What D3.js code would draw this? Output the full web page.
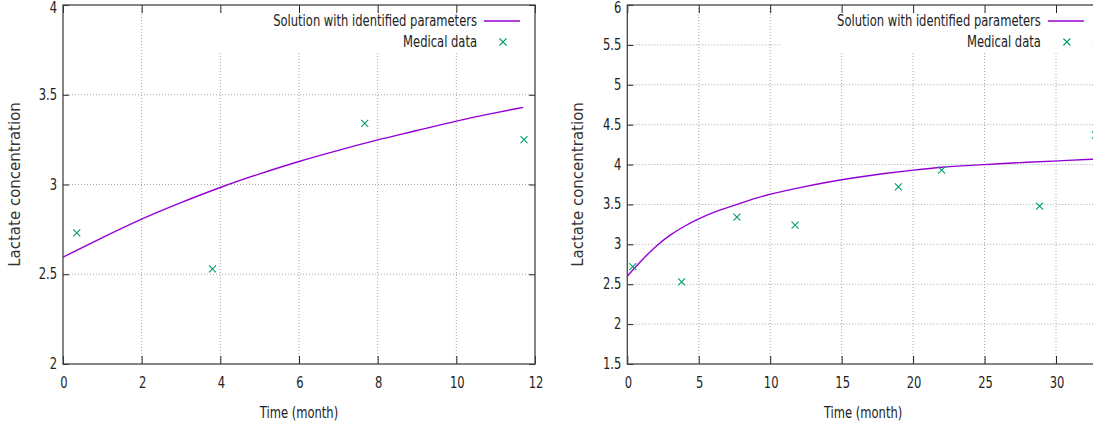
<!DOCTYPE html>
<html><head><meta charset="utf-8">
<script src="https://cdn.jsdelivr.net/npm/d3@7"></script>
<style>
html,body{margin:0;padding:0;background:#fff;overflow:hidden}
text{font-family:"DejaVu Sans",sans-serif;fill:#222}
</style></head>
<body><svg id="c" width="1093" height="433"></svg>
<script>
// ---- data ----
const leftDataTime = [0.35, 3.8, 7.67, 11.72];
const leftDataValue = [2.73, 2.53, 3.34, 3.25];
const leftFitTime = [0, 1, 2, 3, 4, 5, 6, 7, 8, 9, 10, 11, 11.7];
const leftFitValue = [2.595, 2.705, 2.81, 2.90, 2.985, 3.06, 3.13, 3.19, 3.25, 3.30, 3.355, 3.40, 3.43];

const rightDataTime = [0.38, 3.8, 7.67, 11.74, 18.97, 22.0, 28.85, 32.76];
const rightDataValue = [2.72, 2.53, 3.34, 3.24, 3.72, 3.93, 3.48, 4.37];
const rightFitTime = [0, 1, 2, 3, 4, 5, 6, 7, 8, 9, 10, 12, 14, 16, 18, 20, 22, 24, 26, 28, 30, 33];
const rightFitValue = [2.6, 2.80, 2.98, 3.12, 3.23, 3.32, 3.40, 3.46, 3.52, 3.58, 3.63, 3.71, 3.78, 3.84, 3.89, 3.93, 3.97, 3.99, 4.01, 4.03, 4.045, 4.07];

const leftXTicks = [0, 2, 4, 6, 8, 10, 12];
const leftYTicks = [2, 2.5, 3, 3.5, 4];
const rightXTicks = [0, 5, 10, 15, 20, 25, 30];
const rightYTicks = [1.5, 2, 2.5, 3, 3.5, 4, 4.5, 5, 5.5, 6];

const seriesNames = ["Solution with identified parameters", "Medical data"];
const xTitle = "Time (month)";
const yTitle = "Lactate concentration";

// ---- drawing ----
const svg = d3.select("#c");
const SX = 0.77, FS = 15;
const lineColor = "#9400d3", pointColor = "#009e73";

function hText(g, x, y, str, anchor) {
  g.append("text")
    .attr("transform", `translate(${x},${y}) scale(${SX},1)`)
    .attr("text-anchor", anchor).attr("dominant-baseline", "central")
    .style("font-size", FS + "px").text(str);
}

function panel(cfg) {
  const x = d3.scaleLinear().domain(cfg.xDomain).range([cfg.x0, cfg.x1]);
  const y = d3.scaleLinear().domain(cfg.yDomain).range([cfg.y1, cfg.y0]);
  const g = svg.append("g");

  // grid
  const grid = g.append("g").attr("stroke", "#a8a8a8").attr("stroke-width", 1).attr("stroke-dasharray", "1,2");
  cfg.xTicks.filter(v => v > cfg.xDomain[0] && v < cfg.xDomain[1]).forEach(v => {
    grid.append("line").attr("x1", x(v)).attr("x2", x(v)).attr("y1", cfg.y0).attr("y2", cfg.y1);
  });
  cfg.yTicks.filter(v => v > cfg.yDomain[0] && v < cfg.yDomain[1]).forEach(v => {
    grid.append("line").attr("x1", cfg.x0).attr("x2", cfg.x1).attr("y1", y(v)).attr("y2", y(v));
  });
  // key background
  g.append("rect").attr("x", cfg.keyLeft).attr("y", cfg.y0).attr("width", cfg.x1 - cfg.keyLeft).attr("height", 48).attr("fill", "#fff");

  // axes with inward ticks (bottom/left via d3 axes, mirrored top/right)
  const fmt = d3.format("");
  const bottom = g.append("g").attr("transform", `translate(0,${cfg.y1})`)
    .call(d3.axisBottom(x).tickValues(cfg.xTicks).tickSize(-8).tickFormat(""));
  const top = g.append("g").attr("transform", `translate(0,${cfg.y0})`)
    .call(d3.axisTop(x).tickValues(cfg.xTicks).tickSize(-8).tickFormat(""));
  const left = g.append("g").attr("transform", `translate(${cfg.x0},0)`)
    .call(d3.axisLeft(y).tickValues(cfg.yTicks).tickSize(-6).tickFormat(""));
  const right = g.append("g").attr("transform", `translate(${cfg.x1},0)`)
    .call(d3.axisRight(y).tickValues(cfg.yTicks).tickSize(-6).tickFormat(""));
  [bottom, top, left, right].forEach(a => {
    a.select(".domain").remove();
    a.selectAll("line").attr("stroke", "#222").attr("stroke-width", 1);
  });
  g.append("rect").attr("x", cfg.x0).attr("y", cfg.y0).attr("width", cfg.x1 - cfg.x0).attr("height", cfg.y1 - cfg.y0)
    .attr("fill", "none").attr("stroke", "#444").attr("stroke-width", 1.3);

  // tick labels
  cfg.xTicks.forEach(v => hText(g, x(v) + 1, cfg.y1 + 19, fmt(v), "middle"));
  cfg.yTicks.forEach(v => hText(g, cfg.x0 - 6, Math.max(y(v), 8), fmt(v), "end"));

  // titles
  hText(g, (cfg.x0 + cfg.x1) / 2, 413, xTitle, "middle");
  g.append("text")
    .attr("transform", `translate(${cfg.yLabelX},${(cfg.y0 + cfg.y1) / 2}) rotate(-90)`)
    .attr("text-anchor", "middle").attr("dominant-baseline", "central")
    .style("font-size", FS + "px").style("fill", "#333").text(yTitle);

  // fit curve
  const fit = cfg.fitT.map((t, i) => [t, cfg.fitV[i]]);
  g.append("path").datum(fit)
    .attr("d", d3.line().x(d => x(d[0])).y(d => y(d[1])).curve(d3.curveBasis))
    .attr("fill", "none").attr("stroke", lineColor).attr("stroke-width", 1.4);

  // data points
  const s = 3.5;
  const pts = cfg.dataT.map((t, i) => [t, cfg.dataV[i]]);
  g.append("g").selectAll("path").data(pts).join("path")
    .attr("d", d => { const px = x(d[0]), py = y(d[1]);
      return `M${px - s},${py - s}L${px + s},${py + s}M${px - s},${py + s}L${px + s},${py - s}`; })
    .attr("stroke", pointColor).attr("stroke-width", 1.1).attr("fill", "none");

  // legend
  const tEnd = cfg.x1 - 58;
  hText(g, tEnd, 21, seriesNames[0], "end");
  hText(g, tEnd, 42, seriesNames[1], "end");
  g.append("line").attr("x1", tEnd + 7).attr("x2", tEnd + 43).attr("y1", 21).attr("y2", 21)
    .attr("stroke", lineColor).attr("stroke-width", 1.4);
  const mx = tEnd + 26, my = 42;
  g.append("path").attr("d", `M${mx - s},${my - s}L${mx + s},${my + s}M${mx - s},${my + s}L${mx + s},${my - s}`)
    .attr("stroke", pointColor).attr("stroke-width", 1.1);
}

panel({ x0: 63, x1: 535, y0: 5, y1: 364, xDomain: [0, 12], yDomain: [2, 4],
  xTicks: leftXTicks, yTicks: leftYTicks, dataT: leftDataTime, dataV: leftDataValue,
  fitT: leftFitTime, fitV: leftFitValue, keyLeft: 217, yLabelX: 15 });
panel({ x0: 627.3, x1: 627.3 + 33 * 14.29, y0: 5, y1: 364, xDomain: [0, 33], yDomain: [1.5, 6],
  xTicks: rightXTicks, yTicks: rightYTicks, dataT: rightDataTime, dataV: rightDataValue,
  fitT: rightFitTime, fitV: rightFitValue, keyLeft: 781, yLabelX: 578 });
</script></body></html>
